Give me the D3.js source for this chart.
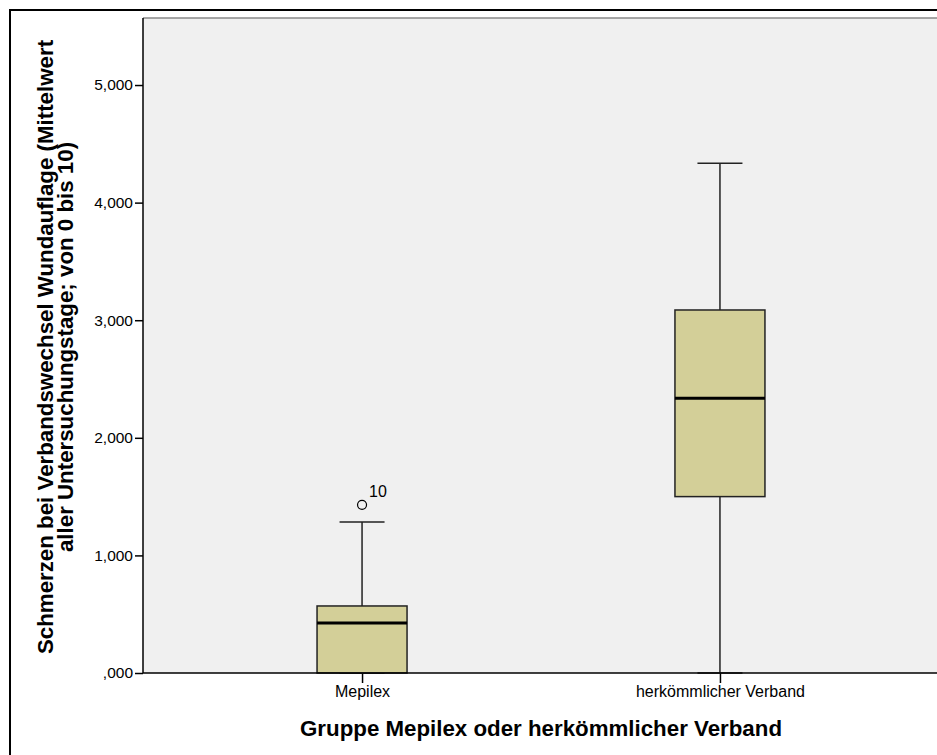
<!DOCTYPE html>
<html><head><meta charset="utf-8">
<script src="https://cdn.jsdelivr.net/npm/d3@7"></script>
<style>body{margin:0;background:#fff}svg{display:block}text{font-family:Arial,"Liberation Sans",sans-serif}</style>
</head><body>
<svg id="c" width="937" height="755"></svg>
<script>
const categories = ["Mepilex", "herkömmlicher Verband"];
const q1 = [0.000, 1.500];
const median = [0.425, 2.336];
const q3 = [0.570, 3.087];
const whiskerLow = [0.000, 0.000];
const whiskerHigh = [1.284, 4.335];
const outliers = [{cat: "Mepilex", value: 1.430, label: "10"}];
const yTicks = [0, 1, 2, 3, 4, 5];

(function () {
const svg = d3.select("#c");
const pL = 143, pR = 939, pT = 18, pB = 673;
const y = d3.scaleLinear().domain([0, 5.57]).range([pB, pT]);
const x = d3.scalePoint().domain(categories).range([pL, pR]).padding(0.612);
const boxW = 90, capW = 45;

// outer frame
svg.append("rect").attr("x", 10).attr("y", 10).attr("width", 940).attr("height", 760)
  .attr("fill", "none").attr("stroke", "#000").attr("stroke-width", 2);

// plot bg
svg.append("rect").attr("x", pL).attr("y", pT).attr("width", pR - pL).attr("height", pB - pT)
  .attr("fill", "#f0f0f0");
svg.append("line").attr("x1", pL).attr("x2", pR).attr("y1", pT).attr("y2", pT)
  .attr("stroke", "#888").attr("stroke-width", 1.5);

// y axis
const yAxis = d3.axisLeft(y).tickValues(yTicks).tickSize(8).tickPadding(2)
  .tickFormat(v => v === 0 ? ",000" : v + ",000");
const ga = svg.append("g").attr("transform", `translate(${pL},0)`).call(yAxis);
ga.select(".domain").remove();
ga.selectAll("line").attr("stroke", "#000").attr("stroke-width", 1.5);
ga.selectAll("text").attr("font-size", 15.5).attr("fill", "#000");
svg.append("line").attr("x1", pL).attr("x2", pL).attr("y1", pT).attr("y2", pB)
  .attr("stroke", "#000").attr("stroke-width", 1.5);

// x axis
const xAxis = d3.axisBottom(x).tickSize(10).tickPadding(3);
const gx = svg.append("g").attr("transform", `translate(0,${pB})`).call(xAxis);
gx.select(".domain").remove();
gx.selectAll("line").attr("stroke", "#000").attr("stroke-width", 1.5);
gx.selectAll("text").attr("font-size", 16).attr("fill", "#000");

// boxes
categories.forEach((c, i) => {
  const cx = x(c);
  const g = svg.append("g");
  g.append("line").attr("x1", cx).attr("x2", cx).attr("y1", y(q3[i])).attr("y2", y(whiskerHigh[i]))
    .attr("stroke", "#222").attr("stroke-width", 1.5);
  g.append("line").attr("x1", cx).attr("x2", cx).attr("y1", y(q1[i])).attr("y2", y(whiskerLow[i]))
    .attr("stroke", "#222").attr("stroke-width", 1.5);
  g.append("line").attr("x1", cx - capW / 2).attr("x2", cx + capW / 2).attr("y1", y(whiskerHigh[i])).attr("y2", y(whiskerHigh[i]))
    .attr("stroke", "#222").attr("stroke-width", 1.5);
  g.append("line").attr("x1", cx - capW / 2).attr("x2", cx + capW / 2).attr("y1", y(whiskerLow[i])).attr("y2", y(whiskerLow[i]))
    .attr("stroke", "#222").attr("stroke-width", 1.5);
  g.append("rect").attr("x", cx - boxW / 2).attr("width", boxW)
    .attr("y", y(q3[i])).attr("height", y(q1[i]) - y(q3[i]))
    .attr("fill", "#d3cf98").attr("stroke", "#222").attr("stroke-width", 1.5);
  g.append("line").attr("x1", cx - boxW / 2).attr("x2", cx + boxW / 2).attr("y1", y(median[i])).attr("y2", y(median[i]))
    .attr("stroke", "#000").attr("stroke-width", 3);
});

// x axis baseline on top
svg.append("line").attr("x1", pL).attr("x2", pR).attr("y1", pB).attr("y2", pB)
  .attr("stroke", "#000").attr("stroke-width", 1.5);

// outliers
outliers.forEach(o => {
  svg.append("circle").attr("cx", x(o.cat)).attr("cy", y(o.value)).attr("r", 4.5)
    .attr("fill", "none").attr("stroke", "#000").attr("stroke-width", 1.2);
  svg.append("text").attr("x", x(o.cat) + 7).attr("y", y(o.value) - 8).attr("font-size", 16)
    .attr("fill", "#000").text(o.label);
});

// titles
svg.append("text").attr("x", (pL + pR) / 2).attr("y", 736).attr("text-anchor", "middle")
  .attr("font-size", 22.3).attr("font-weight", "bold").text("Gruppe Mepilex oder herkömmlicher Verband");
const yt = svg.append("text").attr("transform", "translate(0,347) rotate(-90)").attr("text-anchor", "middle")
  .attr("font-size", 22.3).attr("font-weight", "bold");
yt.append("tspan").attr("x", 0).attr("y", 53).text("Schmerzen bei Verbandswechsel Wundauflage (Mittelwert");
yt.append("tspan").attr("x", 0).attr("y", 73).text("aller Untersuchungstage; von 0 bis 10)");
})();
</script>
</body></html>
